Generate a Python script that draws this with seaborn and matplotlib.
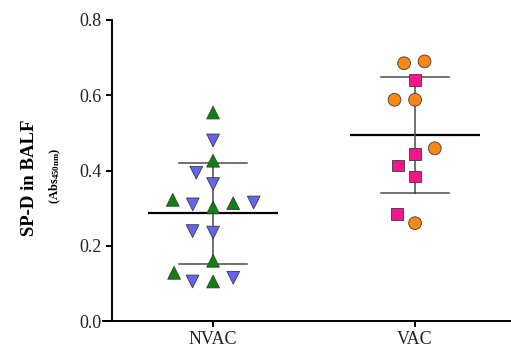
import numpy as np
import pandas as pd
import matplotlib
matplotlib.use("Agg")
import matplotlib.pyplot as plt
from matplotlib.markers import MarkerStyle
import seaborn as sns

# SP-D in BALF (Abs 450nm)
nvac_up = [0.554, 0.426, 0.313, 0.302, 0.322, 0.160, 0.128, 0.105]
nvac_down = [0.480, 0.394, 0.364, 0.310, 0.315, 0.235, 0.239, 0.115, 0.105]
vac_circle = [0.690, 0.685, 0.588, 0.588, 0.459, 0.260]
vac_square = [0.641, 0.444, 0.413, 0.384, 0.285]

groups = ["NVAC", "VAC"]
subsets = ["up", "down", "circle", "square"]
palette = {"up": "#108010", "down": "#6464f2", "circle": "#ff8612", "square": "#f5168c"}
marker_of = {"up": "^", "down": "v", "circle": "o", "square": "s"}

df = pd.concat([
    pd.DataFrame({"group": "NVAC", "sub": "up", "value": nvac_up}),
    pd.DataFrame({"group": "NVAC", "sub": "down", "value": nvac_down}),
    pd.DataFrame({"group": "VAC", "sub": "circle", "value": vac_circle}),
    pd.DataFrame({"group": "VAC", "sub": "square", "value": vac_square}),
], ignore_index=True)

plt.rcParams["font.family"] = "Liberation Serif"
plt.rcParams["mathtext.fontset"] = "custom"
plt.rcParams["mathtext.rm"] = "Liberation Serif:bold"
plt.rcParams["mathtext.it"] = "Liberation Serif:bold"
plt.rcParams["mathtext.bf"] = "Liberation Serif:bold"

fig = plt.figure(figsize=(5.11, 3.58), dpi=100)
ax = fig.add_axes([103 / 511, 37 / 358, 408 / 511, 301 / 358])

# swarm spacing uses the big size, markers are drawn smaller
sns.swarmplot(data=df, x="group", y="value", hue="sub", order=groups,
              hue_order=subsets, palette=palette, size=13.5, linewidth=0.6,
              edgecolor="#3a3a3a", legend=False, ax=ax)

shrink = 0.68
for coll, g in zip(ax.collections, groups):
    subs = df.loc[df["group"] == g, "sub"]
    paths = []
    for s in subs:
        m = MarkerStyle(marker_of[s])
        p = m.get_path().transformed(m.get_transform())
        k = shrink * (0.92 if s == "square" else 1.0)
        paths.append(p.transformed(matplotlib.transforms.Affine2D().scale(k)))
    coll.set_paths(paths)

sns.pointplot(data=df, x="group", y="value", order=groups, errorbar="sd",
              capsize=0.334, linestyle="none", markers="_", markersize=94,
              markeredgewidth=1.6, color="black",
              err_kws={"color": "#4a4a4a", "linewidth": 1.1}, ax=ax)

ax.set_xlim(-0.545, 1.475)
ax.set_ylim(0, 0.8)
ax.set_yticks([0, 0.2, 0.4, 0.6, 0.8])
ax.set_yticklabels(["0.0", "0.2", "0.4", "0.6", "0.8"])
ax.spines["left"].set_position(("data", -0.5))
ax.spines["top"].set_visible(False)
ax.spines["right"].set_visible(False)
for sp in ["left", "bottom"]:
    ax.spines[sp].set_linewidth(1.4)
ax.tick_params(axis="both", length=4.5, width=1.4, labelsize=13, pad=3,
               labelcolor="#222222")
ax.set_xlabel("")
ax.set_ylabel("")

fig.text(30 / 511, 1 - 178 / 358, "SP-D in BALF", rotation=90, fontsize=13.5,
         fontweight="bold", ha="center", va="center")
fig.text(55 / 511, 1 - 176 / 358, r"(Abs$_{450nm}$)", rotation=90,
         fontsize=9, fontweight="bold", ha="center", va="center")

fig.savefig("out.png", dpi=100)
